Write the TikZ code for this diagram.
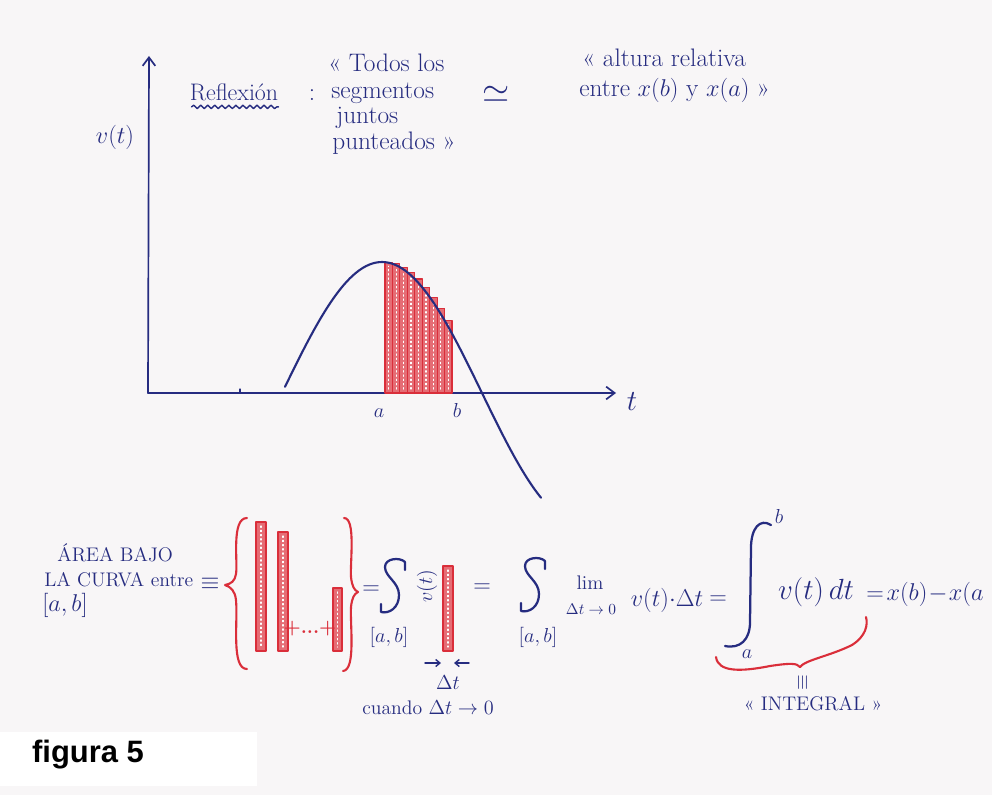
\documentclass[tikz,border=0pt]{standalone}
\usepackage{fontspec}
\usepackage{amsmath,amssymb}
\usetikzlibrary{arrows.meta,calc,decorations.pathmorphing}
\newfontfamily\arialfont{Liberation Sans}
\definecolor{tinte}{RGB}{38,44,128}
\definecolor{rotstift}{RGB}{218,46,58}
\definecolor{bg}{RGB}{248,246,247}
\tikzset{
  every picture/.style={tinte, line width=1.3pt, line cap=round, line join=round,
    >={Straight Barb[length=6pt,width=9pt]}},
  % Schrift
  hand/.style={font=\fontsize{18}{20}\selectfont, inner sep=1pt},
  klein/.style={font=\fontsize{14}{16}\selectfont, inner sep=1pt},
  gross/.style={font=\fontsize{22}{24}\selectfont, inner sep=1pt},
  % Linien
  achse/.style={line width=1.2pt, ->},
  kurve/.style={line width=1.5pt},
  stift/.style={line width=1.6pt},
  klammer/.style={rotstift, line width=1.5pt},
  pfeilchen/.style={line width=1pt, -{Straight Barb[length=3pt,width=5pt]}},
  % Balken, punktiert
  balken/.style={draw=rotstift, fill=rotstift!70, line width=0.8pt},
  punkte/.style={white, line width=0.8pt, dash pattern=on 1pt off 2pt},
  % Summenzeichen (S mit Haken)
  summe/.pic={\draw[stift] (12,-18) -- (12,-26) .. controls (7,-31) and (-8,-30) .. (-8,-21)
      .. controls (-8,-11) and (6,-6) .. (6,7) .. controls (6,20) and (-4,26) .. (-12,24) -- (-12,16);},
}

\begin{document}
\begin{tikzpicture}[x=0.025cm, y=-0.025cm,
  declare function={f(\u)=393-131*cos((\u-382)*0.9);}]
  \clip (0,0) rectangle (992,795);
  \fill[bg] (0,0) rectangle (992,795);
  \fill[white] (0,732) rectangle (257,786);

  % Achsen
  \coordinate (O) at (148,393);
  \coordinate (ytip) at (149,56);
  \coordinate (xtip) at (616,393);
  \draw[achse] (O) -- (ytip);
  \draw[achse] (O) -- (xtip);
  \draw[line width=0.8pt] (240,389) -- (240,393);
  \node[hand] (vt) at (115,137) {$v(t)$};
  \node[gross] (t) at (632,402) {$t$};

  % Riemann-Balken zwischen a und b
  \foreach \i in {0,...,8} {
    \pgfmathsetmacro\xl{385+7.45*\i}
    \pgfmathsetmacro\yl{f(\xl)}
    \draw[balken] (\xl,393) rectangle (\xl+7.45,\yl);
    \draw[punkte] (\xl+3.7,389) -- (\xl+3.7,\yl+4);
  }

  % Kurve v(t)
  \draw[kurve, domain=285:541, samples=80] plot (\x,{f(\x)});
  \node[klein] (a) at (379,413) {$a$};
  \node[klein] (b) at (457,410) {$b$};

  % Reflexion
  \node[font=\fontsize{17}{19}\selectfont, inner sep=1pt] (refl) at (234,92) {Reflexión};
  \draw[line width=1pt, decorate, decoration={snake, amplitude=1.2pt, segment length=5pt}]
    ($(refl.south west)+(4,4)$) -- ($(refl.south east)+(-2,4)$);
  \node[hand] (dp) at (312,95) {:};
  \node[hand, anchor=west] (todos) at (326,63) {« Todos los};
  \node[hand, anchor=west] (segm) at (329,93) {segmentos};
  \node[hand, anchor=west] (juntos) at (334,118) {juntos};
  \node[hand, anchor=west] (punt) at (330,143) {punteados »};
  \node[font=\fontsize{28}{30}\selectfont] (approx) at (496,94) {$\simeq$};
  \node[hand, anchor=west] (altura) at (580,58) {« altura relativa};
  \node[hand, anchor=west] (entre) at (577,90) {entre $x(b)$ y $x(a)$ »};

  % Flaeche als Summe
  \node[klein, anchor=west] (area) at (55,553) {ÁREA BAJO};
  \node[klein, anchor=west] (curva) at (42,580) {LA CURVA entre};
  \node[hand, anchor=west] (ab) at (40,605) {$[a,b]$};
  \node[hand] (equiv) at (210,584) {$\equiv$};
  \draw[klammer] (247,518) .. controls (231,518) and (238,562) .. (236,574)
    .. controls (235,581) and (231,584) .. (225,585) .. controls (231,587) and (235,591) .. (236,600)
    .. controls (238,622) and (231,669) .. (247,669);
  \draw[klammer] (344,518) .. controls (356,518) and (350,562) .. (351,577)
    .. controls (352,586) and (354,590) .. (358,592) .. controls (354,594) and (352,598) .. (351,607)
    .. controls (350,625) and (356,670) .. (343,671);
  \foreach \l/\o/\r in {256/522/266, 278/532/288, 333/588/342, 443/566/453} {
    \draw[balken, line width=1.2pt] (\l,\o) rectangle (\r,651);
    \draw[punkte] ({(\l+\r)/2},{\o+4}) -- ({(\l+\r)/2},647);
  }
  \node[klein, rotstift, font=\fontsize{14}{16}\selectfont\bfseries] (plus) at (310,629) {+...+};
  \node[hand] (eq1) at (371,590) {$=$};
  \pic at (393,588) {summe};
  \node[klein] (ab1) at (389,637) {$[a,b]$};
  \node[klein, rotate=90] (vt1) at (427,586) {$v(t)$};
  \coordinate (dl) at (425,663);
  \coordinate (dr) at (469,663);
  \draw[pfeilchen] (dl) -- ++(16,0);
  \draw[pfeilchen] (dr) -- ++(-15,0);
  \node[klein] (dt) at (448,683) {$\Delta t$};
  \node[klein] (cuando) at (428,708) {cuando $\Delta t\to 0$};
  \node[hand] (eq2) at (482,588) {$=$};
  \pic at (533,587) {summe};
  \node[klein] (ab2) at (538,637) {$[a,b]$};
  \node[klein] (lim) at (590,583) {lim};
  \node[font=\fontsize{11}{13}\selectfont, inner sep=1pt] (limsub) at (591,609) {$\Delta t\to 0$};
  \node[hand] (vdt) at (667,600) {$v(t){\cdot}\Delta t$};
  \node[hand] (eq3) at (718,600) {$=$};

  % Integral
  \draw[stift] (771,525) .. controls (760,518) and (751,528) .. (751,548) -- (750,622)
    .. controls (750,640) and (740,649) .. (725,646);
  \node[klein] (ib) at (779,516) {$b$};
  \node[klein] (ia) at (747,654) {$a$};
  \node[gross] (integrand) at (816,592) {$v(t)\,dt$};
  \node[hand, anchor=west] (xbxa) at (864,594) {$=\!x(b)\!-\!x(a$};
  \draw[klammer] (716,657) .. controls (718,672) and (740,672) .. (770,666)
    .. controls (790,663) and (797,663) .. (800,667) .. controls (805,660) and (830,656) .. (852,645)
    .. controls (866,636) and (868,625) .. (866,617);
  \node[klein, rotate=90] (gleich) at (803,683) {$\equiv$};
  \node[klein] (integral) at (813,704) {« INTEGRAL »};

  % Bildunterschrift
  \node[font=\arialfont\bfseries\fontsize{22}{24}\selectfont, black] (fig) at (88,755) {figura 5};
\end{tikzpicture}
\end{document}
